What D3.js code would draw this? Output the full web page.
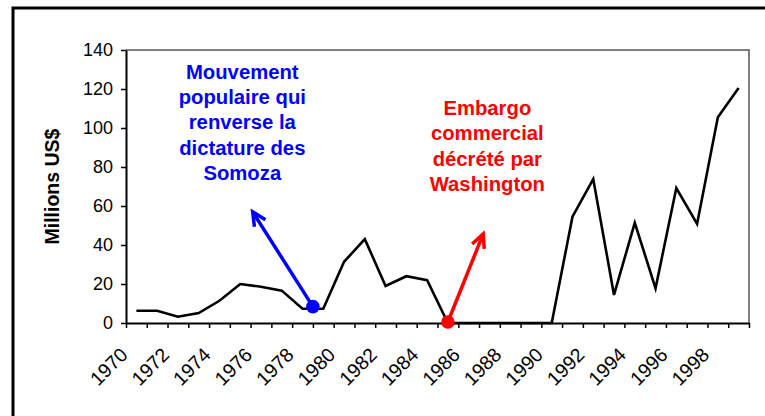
<!DOCTYPE html>
<html>
<head>
<meta charset="utf-8">
<script src="https://cdn.jsdelivr.net/npm/d3@7"></script>
<style>
  html, body { margin: 0; padding: 0; background: #fff; }
  svg { display: block; }
  text { font-family: Arial, "Liberation Sans", sans-serif; }
</style>
</head>
<body>
<svg id="chart" width="765" height="416"></svg>
<script>
// ---- data ----
const years = d3.range(1970, 2000);
const values = [6.3, 6.3, 3.2, 5.1, 11.4, 20, 18.6, 16.6, 7.3, 7.3,
                31.4, 43, 19, 24, 22, 0, 0, 0, 0, 0,
                0, 54.5, 73.8, 14.4, 51.4, 17.8, 69.2, 50.8, 105.5, 120.5];
const yTicks = [0, 20, 40, 60, 80, 100, 120, 140];
const xTickLabels = [1970, 1972, 1974, 1976, 1978, 1980, 1982, 1984, 1986, 1988, 1990, 1992, 1994, 1996, 1998];
const yTitle = "Millions US$";
const blueText = ["Mouvement", "populaire qui", "renverse la", "dictature des", "Somoza"];
const redText = ["Embargo", "commercial", "décrété par", "Washington"];
// annotation anchors in data units (year, value)
const blueDot = [1978.5, 8.4], blueTip = [1975.6, 57], blueLabel = [1975.1, 125.2];
const redDot = [1985, 0.5], redTip = [1986.7, 45.7], redLabel = [1986.9, 106.7];

// ---- layout ----
const svg = d3.select("#chart");
const pLeft = 126, pRight = 749, pTop = 50, pBottom = 323;

const x = d3.scaleLinear().domain([1969.5, 1999.5]).range([pLeft, pRight]);
const y = d3.scaleLinear().domain([0, 140]).range([pBottom, pTop]);

// outer chart border
svg.append("rect")
  .attr("x", 13).attr("y", 8).attr("width", 800).attr("height", 500)
  .attr("fill", "none").attr("stroke", "#000").attr("stroke-width", 3);

// plot area frame (top & right)
svg.append("path")
  .attr("d", `M${pLeft},${pTop}H${pRight}V${pBottom}`)
  .attr("fill", "none").attr("stroke", "#555").attr("stroke-width", 1.5);

// y axis
const yAxis = svg.append("g")
  .attr("transform", `translate(${pLeft},0)`)
  .call(d3.axisLeft(y).tickValues(yTicks).tickSize(5).tickSizeOuter(0).tickPadding(8));
yAxis.select(".domain").attr("stroke", "#000").attr("stroke-width", 2);
yAxis.selectAll(".tick line").attr("stroke", "#000").attr("stroke-width", 1.5);
yAxis.selectAll(".tick text").attr("font-size", 18).attr("fill", "#000")
  .attr("font-family", "Arial, 'Liberation Sans', sans-serif");

// x axis: ticks at category boundaries
const bounds = d3.range(1969.5, 2000, 1);
const xAxis = svg.append("g")
  .attr("transform", `translate(0,${pBottom})`)
  .call(d3.axisBottom(x).tickValues(bounds).tickSize(5).tickSizeOuter(0).tickFormat(""));
xAxis.select(".domain").attr("stroke", "#000").attr("stroke-width", 2);
xAxis.selectAll(".tick line").attr("stroke", "#000").attr("stroke-width", 1.5);

// x labels (rotated)
const xLab = svg.append("g")
  .attr("transform", `translate(0,${pBottom})`)
  .call(d3.axisBottom(x).tickValues(xTickLabels).tickSize(0).tickFormat(d3.format("d")));
xLab.select(".domain").remove();
xLab.selectAll(".tick text")
  .attr("font-size", 19.5).attr("fill", "#000")
  .attr("font-family", "Arial, 'Liberation Sans', sans-serif")
  .attr("text-anchor", "end")
  .attr("dy", null).attr("y", 0)
  .attr("transform", "translate(-8,33) rotate(-45)");

// y title
svg.append("text")
  .attr("transform", `translate(59,${(pTop + pBottom) / 2}) rotate(-90)`)
  .attr("text-anchor", "middle")
  .attr("font-size", 19.5).attr("font-weight", "bold").attr("fill", "#000")
  .text(yTitle);

// line
const line = d3.line().x((d, i) => x(years[i])).y(d => y(d));
svg.append("path")
  .datum(values)
  .attr("d", line)
  .attr("fill", "none").attr("stroke", "#000").attr("stroke-width", 2.6)
  .attr("stroke-linejoin", "miter");

// arrows
function arrow(from, to, color) {
  const x1 = x(from[0]), y1 = y(from[1]), x2 = x(to[0]), y2 = y(to[1]);
  svg.append("line").attr("x1", x1).attr("y1", y1).attr("x2", x2).attr("y2", y2)
    .attr("stroke", color).attr("stroke-width", 3.5);
  const ang = Math.atan2(y2 - y1, x2 - x1);
  const len = 15, spread = 0.45;
  const p1 = [x2 - len * Math.cos(ang - spread), y2 - len * Math.sin(ang - spread)];
  const p2 = [x2 - len * Math.cos(ang + spread), y2 - len * Math.sin(ang + spread)];
  svg.append("path")
    .attr("d", `M${p1[0]},${p1[1]}L${x2},${y2}L${p2[0]},${p2[1]}`)
    .attr("fill", "none").attr("stroke", color).attr("stroke-width", 3.5)
    .attr("stroke-linejoin", "miter");
  svg.append("circle").attr("cx", x1).attr("cy", y1).attr("r", 6.8).attr("fill", color);
}
arrow(blueDot, blueTip, "#0000FF");
arrow(redDot, redTip, "#FF0000");

// annotation texts
function label(lines, pos, color) {
  const t = svg.append("text")
    .attr("x", x(pos[0])).attr("y", y(pos[1]))
    .attr("text-anchor", "middle")
    .attr("font-size", 20.3).attr("font-weight", "bold").attr("fill", color);
  lines.forEach((s, i) => {
    t.append("tspan").attr("x", x(pos[0])).attr("dy", i === 0 ? 0 : 25.3).text(s);
  });
}
label(blueText, blueLabel, "#0000FF");
label(redText, redLabel, "#FF0000");
</script>
</body>
</html>
